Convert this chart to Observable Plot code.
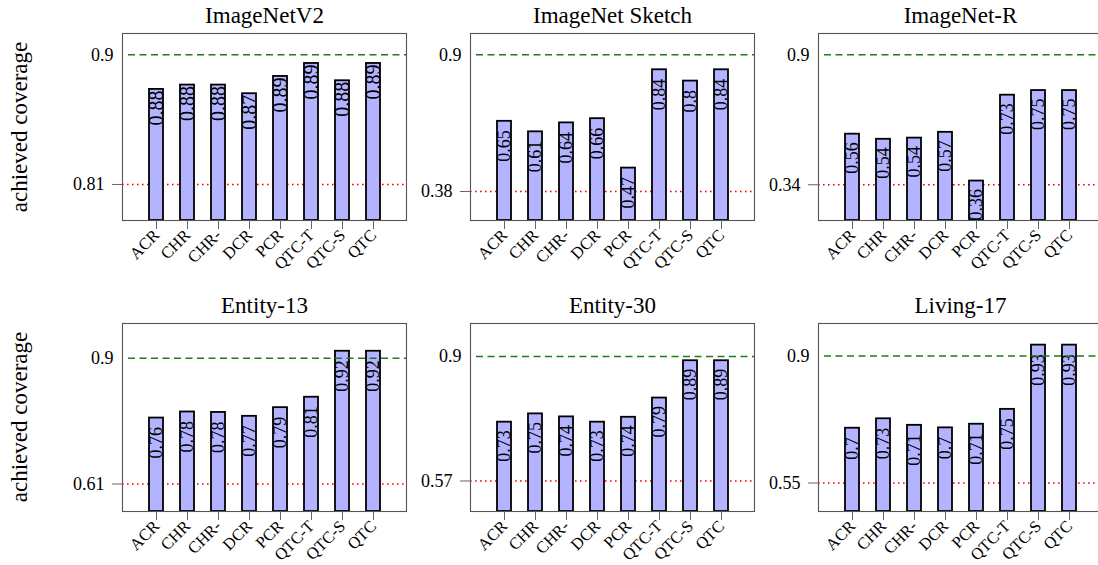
<!DOCTYPE html>
<html>
<head>
<meta charset="utf-8">
<script src="https://cdn.jsdelivr.net/npm/d3@7"></script>
<script src="https://cdn.jsdelivr.net/npm/@observablehq/plot@0.6"></script>
<style>
  html, body { margin: 0; padding: 0; background: #fff; overflow: hidden; }
  #chart { position: relative; width: 1098px; height: 565px; overflow: hidden; font-family: "Liberation Serif", "Times New Roman", "DejaVu Serif", serif; }
  .panel { position: absolute; width: 348px; }
  .panel svg { max-width: none !important; }
  .ylab { position: absolute; font-size: 23px; white-space: nowrap; transform: translate(-50%, -50%) rotate(-90deg); color: #000; }
</style>
</head>
<body>
<div id="chart"></div>
<script>
// ---- data ----
const methods = ["ACR", "CHR", "CHR-", "DCR", "PCR", "QTC-T", "QTC-S", "QTC"];
const datasets = ["ImageNetV2", "ImageNet Sketch", "ImageNet-R", "Entity-13", "Entity-30", "Living-17"];
const imagenetV2     = [0.876, 0.879, 0.879, 0.873, 0.885, 0.894, 0.882, 0.894];
const imagenetSketch = [0.647, 0.607, 0.641, 0.657, 0.469, 0.843, 0.800, 0.843];
const imagenetR      = [0.558, 0.536, 0.541, 0.566, 0.356, 0.726, 0.746, 0.746];
const entity13       = [0.762, 0.776, 0.775, 0.766, 0.786, 0.810, 0.916, 0.916];
const entity30       = [0.726, 0.748, 0.740, 0.726, 0.739, 0.790, 0.889, 0.889];
const living17       = [0.701, 0.727, 0.709, 0.702, 0.712, 0.753, 0.930, 0.930];
const targetCoverage = 0.9;
const lowerReference = [0.81, 0.38, 0.34, 0.61, 0.57, 0.55];
const yAxisLabel = "achieved coverage";

// ---- per-panel axis configuration ----
const series = [imagenetV2, imagenetSketch, imagenetR, entity13, entity30, living17];
const yLimits = [[0.785, 0.9148], [0.2697, 0.981], [0.186, 0.9918], [0.5466, 0.980], [0.489, 0.9878], [0.4715, 0.9896]];
const labelOffset = [1, 9, 8, 9, 8, 9];
const labelSize = [20, 18, 18, 18, 18, 18];
const FONT = "'Liberation Serif', 'Times New Roman', 'DejaVu Serif', serif";

const chart = document.getElementById("chart");
const fmt = v => String(+v.toFixed(2));

series.forEach((vals, i) => {
  const row = Math.floor(i / 3), col = i % 3;
  const rows = methods.map((m, j) => ({method: m, value: vals[j]}));
  const lo = lowerReference[i];
  const dom = yLimits[i];
  const plot = Plot.plot({
    width: 348,
    height: row === 0 ? 280 : 275,
    marginLeft: 60,
    marginRight: 4,
    marginTop: 33,
    marginBottom: row === 0 ? 60 : 54,
    style: {fontFamily: FONT, background: "transparent", overflow: "visible", color: "black", maxWidth: "none"},
    x: {domain: methods, paddingInner: 0.55, paddingOuter: 0.84},
    y: {domain: dom},
    marks: [
      Plot.ruleY([lo], {stroke: "#ff0000", strokeWidth: 1.6, strokeDasharray: "1.6,3.4"}),
      Plot.barY(rows, {x: "method", y1: dom[0], y2: "value", fill: "#b3b3ff", stroke: "black", strokeWidth: 1.8}),
      Plot.text(rows, {x: "method", y: "value", text: d => fmt(d.value), rotate: -90, textAnchor: "end", lineAnchor: "middle", dy: labelOffset[i], fontSize: labelSize[i], fill: "black"}),
      Plot.ruleY([targetCoverage], {stroke: "#1f7a1f", strokeWidth: 1.5, strokeDasharray: "7,4.5", insetLeft: 6}),
      Plot.frame({stroke: "#555", strokeWidth: 1.1}),
      Plot.axisY([targetCoverage], {tickSize: 0, tickPadding: 9, fontSize: 18, tickFormat: d => String(d), label: null, fill: "black"}),
      Plot.axisY([lo], {tickSize: 10, tickPadding: 8, fontSize: 18, tickFormat: d => String(d), label: null, stroke: "#666", fill: "black"}),
      Plot.axisX({tickRotate: -45, tickSize: 9, tickPadding: 3, fontSize: 16.5, label: null, stroke: "#666", fill: "black"}),
      Plot.text([datasets[i]], {frameAnchor: "top", dy: -11, lineAnchor: "bottom", fontSize: 23, fill: "black"})
    ]
  });
  const wrap = document.createElement("div");
  wrap.className = "panel";
  wrap.style.left = (62 + 348 * col) + "px";
  wrap.style.top = (row * 290) + "px";
  wrap.appendChild(plot);
  chart.appendChild(wrap);
});

[126.5, 417].forEach(cy => {
  const lab = document.createElement("div");
  lab.className = "ylab";
  lab.style.left = "20px";
  lab.style.top = cy + "px";
  lab.textContent = yAxisLabel;
  chart.appendChild(lab);
});
</script>
</body>
</html>
